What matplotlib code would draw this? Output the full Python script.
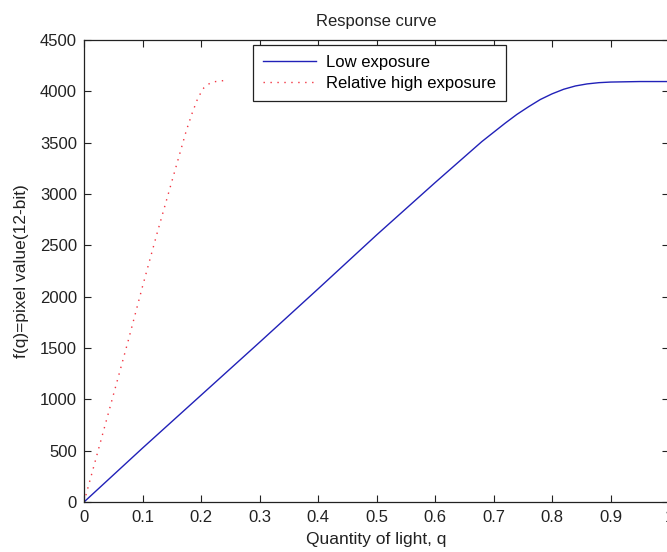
import numpy as np
import matplotlib
matplotlib.use("Agg")
import matplotlib.pyplot as plt

# low exposure curve
q_low = [0.0, 0.1, 0.2, 0.3, 0.4, 0.5, 0.6, 0.65, 0.68, 0.7, 0.72, 0.74, 0.76, 0.78,
         0.8, 0.82, 0.84, 0.86, 0.88, 0.9, 0.95, 1.0]
f_low = [0, 525, 1040, 1555, 2075, 2600, 3110, 3360, 3510, 3600, 3690, 3775, 3850, 3920,
         3975, 4020, 4052, 4072, 4084, 4090, 4095, 4095]

# relative high exposure curve
q_high = [0.0, 0.025, 0.05, 0.075, 0.1, 0.125, 0.15, 0.175, 0.185, 0.195, 0.205,
          0.215, 0.225, 0.24]
f_high = [0, 520, 1040, 1560, 2100, 2620, 3120, 3620, 3790, 3940, 4035, 4078, 4095, 4105]

x_ticks = [0, 0.1, 0.2, 0.3, 0.4, 0.5, 0.6, 0.7, 0.8, 0.9, 1]
y_ticks = [0, 500, 1000, 1500, 2000, 2500, 3000, 3500, 4000, 4500]

plt.rcParams['font.family'] = ['Liberation Sans', 'DejaVu Sans']
plt.rcParams['font.size'] = 12

fig = plt.figure(figsize=(6.67, 5.52), dpi=100)
ax = fig.add_axes([0.126, 0.0906, 0.877, 0.837])

ax.plot(q_low, f_low, color=(0.13, 0.13, 0.72), lw=1.0, label='Low exposure')
ax.plot(q_high, f_high, color=(0.95, 0.2, 0.25), lw=1.0, dashes=(1, 4),
        label='Relative high exposure')

ax.set_xlim(0, 1)
ax.set_ylim(0, 4500)
ax.set_xticks(x_ticks)
ax.set_xticklabels(['0', '0.1', '0.2', '0.3', '0.4', '0.5', '0.6', '0.7', '0.8', '0.9', '1'])
ax.set_yticks(y_ticks)
ax.tick_params(direction='in', length=5, width=0.8, top=True, right=True,
               colors='#222222', labelsize=12)
ax.tick_params(axis='x', pad=6)
ax.tick_params(axis='y', pad=5)
for s in ax.spines.values():
    s.set_linewidth(0.9)
    s.set_color('#222222')

ax.set_title('Response curve', fontsize=12, pad=10, color='#222222')
ax.set_xlabel('Quantity of light, q', fontsize=12.5, labelpad=5, color='#222222')
ax.set_ylabel('f(q)=pixel value(12-bit)', fontsize=12.5, labelpad=8, color='#222222')

leg = ax.legend(loc='upper left', bbox_to_anchor=(0.289, 0.989), borderaxespad=0,
                fancybox=False, edgecolor='#222222', framealpha=1, fontsize=12,
                handlelength=3.2, handletextpad=0.55, borderpad=0.6, labelspacing=0.35)
leg.get_frame().set_linewidth(0.9)

fig.savefig('out.png', dpi=100)
